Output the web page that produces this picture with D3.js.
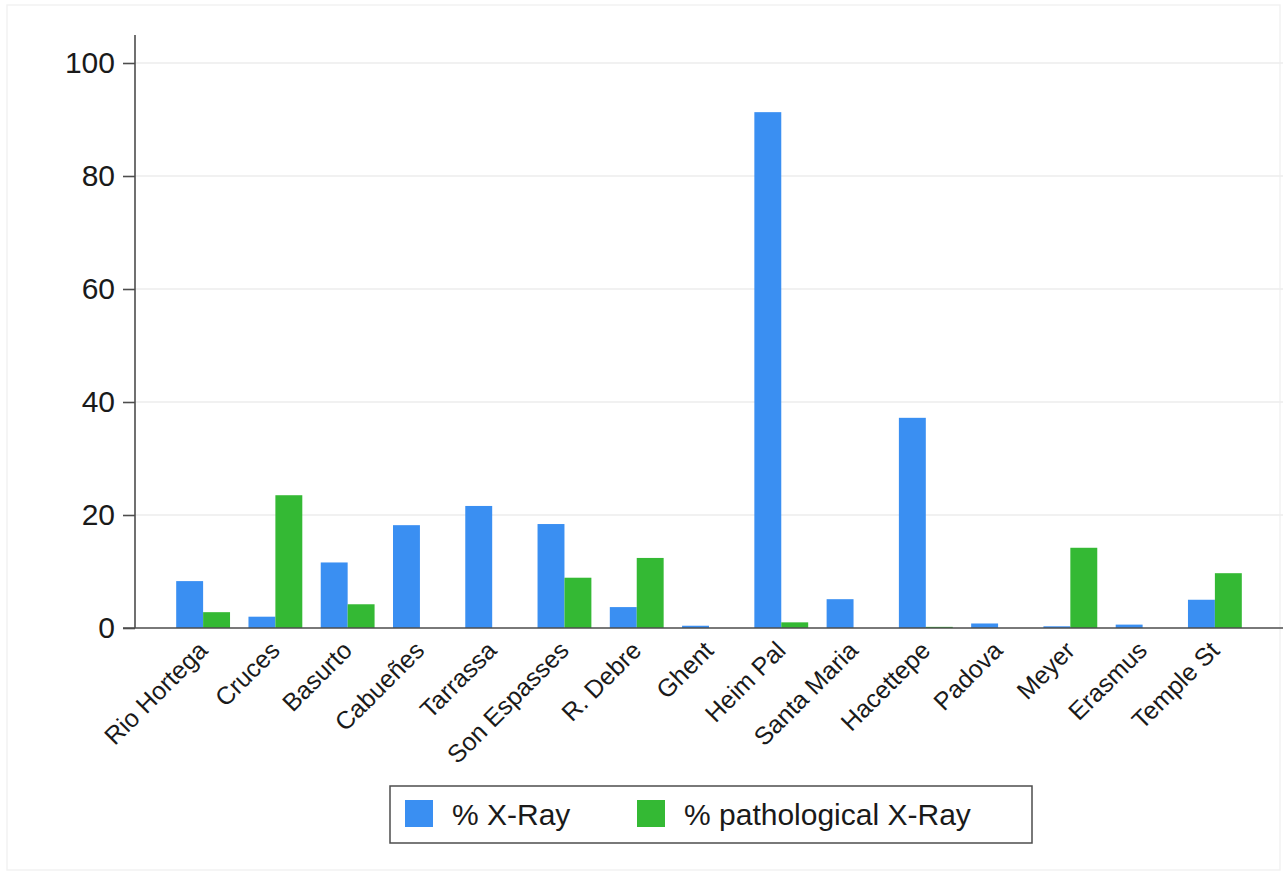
<!DOCTYPE html>
<html>
<head>
<meta charset="utf-8">
<script src="https://cdn.jsdelivr.net/npm/d3@7"></script>
<style>
  body { margin: 0; background: #fff; }
  text { font-family: "Liberation Sans", Arial, sans-serif; fill: #1a1a1a; }
</style>
</head>
<body>
<div id="chart"></div>
<script>
const hospitals = ["Rio Hortega", "Cruces", "Basurto", "Cabueñes", "Tarrassa", "Son Espasses",
  "R. Debre", "Ghent", "Heim Pal", "Santa Maria", "Hacettepe", "Padova", "Meyer", "Erasmus", "Temple St"];
const xray = [8.3, 2.0, 11.6, 18.2, 21.6, 18.4, 3.7, 0.4, 91.3, 5.1, 37.2, 0.8, 0.3, 0.6, 5.0];
const pathXray = [2.8, 23.5, 4.2, 0, 0, 8.9, 12.4, 0, 1.0, 0, 0.2, 0, 14.2, 0, 9.7];
const seriesNames = ["% X-Ray", "% pathological X-Ray"];
const colors = ["#3a8ff2", "#34b934"];
const yTicks = [0, 20, 40, 60, 80, 100];

const width = 1286, height = 877;
const mLeft = 135, mRight = 1283, mTop = 35, mBottom = 628;

const svg = d3.select("#chart").append("svg")
  .attr("width", width).attr("height", height);

// faint outer frame
svg.append("rect")
  .attr("x", 7).attr("y", 5).attr("width", 1273).attr("height", 865)
  .attr("fill", "none").attr("stroke", "#f2f2f2").attr("stroke-width", 1.5);

const y = d3.scaleLinear().domain([0, 105]).range([mBottom, mBottom - 105 * 5.65]);

const x0 = d3.scaleBand().domain(hospitals).range([mLeft, mRight])
  .paddingInner(0.255).paddingOuter(0.57);
const x1 = d3.scaleBand().domain(seriesNames).range([0, x0.bandwidth()]);

const rows = hospitals.map((h, i) => ({ name: h, values: [xray[i], pathXray[i]] }));

// grid lines
svg.append("g")
  .selectAll("line")
  .data(yTicks.filter(d => d > 0))
  .join("line")
  .attr("x1", mLeft).attr("x2", mRight)
  .attr("y1", d => y(d)).attr("y2", d => y(d))
  .attr("stroke", "#ececec").attr("stroke-width", 1.5);

// bars
svg.append("g")
  .selectAll("g")
  .data(rows)
  .join("g")
  .attr("transform", d => `translate(${x0(d.name)},0)`)
  .selectAll("rect")
  .data(d => d.values.map((v, k) => ({ key: seriesNames[k], value: v, k })))
  .join("rect")
  .attr("x", d => x1(d.key))
  .attr("width", x1.bandwidth())
  .attr("y", d => y(d.value))
  .attr("height", d => y(0) - y(d.value))
  .attr("fill", d => colors[d.k]);

// y axis
const yAxis = svg.append("g")
  .attr("transform", `translate(${mLeft},0)`)
  .call(d3.axisLeft(y).tickValues(yTicks).tickSize(12).tickPadding(8));
yAxis.select(".domain").attr("d", `M0,${mTop}V${mBottom}`).attr("stroke", "#4d4d4d").attr("stroke-width", 1.6);
yAxis.selectAll(".tick line").attr("stroke", "#4d4d4d").attr("stroke-width", 1.6);
yAxis.selectAll(".tick text").attr("font-size", 30).attr("fill", "#1a1a1a")
  .attr("font-family", "Liberation Sans, Arial, sans-serif");

// x axis
const xAxis = svg.append("g")
  .attr("transform", `translate(0,${mBottom})`)
  .call(d3.axisBottom(x0).tickSize(0).tickPadding(0));
xAxis.select(".domain").attr("d", `M${mLeft - 12},0H${mRight}`).attr("stroke", "#4d4d4d").attr("stroke-width", 1.6);
xAxis.selectAll(".tick text")
  .attr("font-size", 25)
  .attr("font-family", "Liberation Sans, Arial, sans-serif")
  .attr("fill", "#1a1a1a")
  .attr("text-anchor", "end")
  .attr("dy", null)
  .attr("y", 0)
  .attr("transform", "translate(6,24) rotate(-45)");

// legend
const legend = svg.append("g").attr("transform", "translate(390,786)");
legend.append("rect")
  .attr("width", 642).attr("height", 57)
  .attr("fill", "#fff").attr("stroke", "#4d4d4d").attr("stroke-width", 1.5);
const legendX = [15, 247];
seriesNames.forEach((s, i) => {
  const g = legend.append("g").attr("transform", `translate(${legendX[i]},0)`);
  g.append("rect").attr("x", 0).attr("y", 14).attr("width", 28).attr("height", 27).attr("fill", colors[i]);
  g.append("text").attr("x", 47).attr("y", 39).attr("font-size", 30).text(s);
});
</script>
</body>
</html>
